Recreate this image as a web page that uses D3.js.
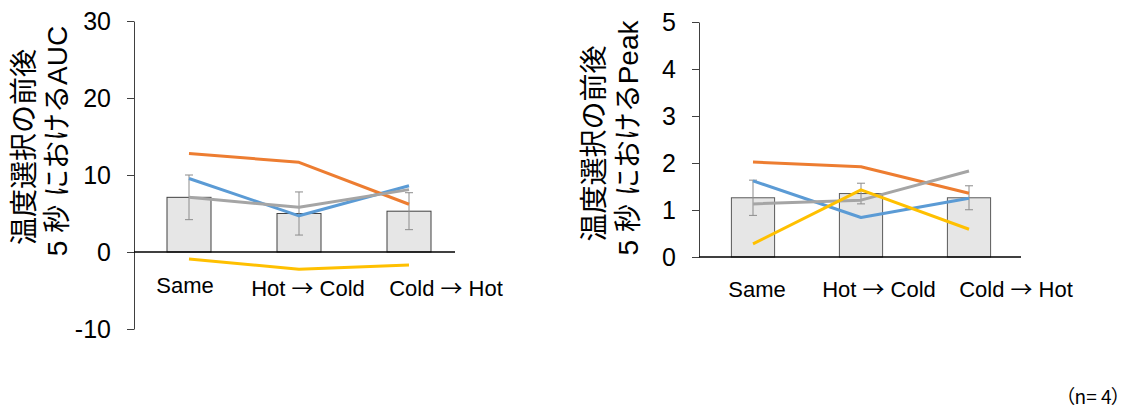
<!DOCTYPE html>
<html>
<head>
<meta charset="utf-8">
<script src="https://cdn.jsdelivr.net/npm/d3@7"></script>
<style>
  body { margin: 0; background: #fff; }
  svg { display: block; }
  text { font-family: "Liberation Sans", Arial, "Noto Sans CJK JP", sans-serif; fill: #000; }
</style>
</head>
<body>
<div id="chart"></div>
<script>
// categories
const categories = ['Same', 'Hot \u2192 Cold', 'Cold \u2192 Hot'];

// AUC panel (left)
const aucTicks = [-10, 0, 10, 20, 30];
const aucMean = [7.1, 5.0, 5.3];
const aucErr = [2.9, 2.8, 2.4];
const aucBlue = [9.55, 4.7, 8.6];
const aucOrange = [12.8, 11.65, 6.2];
const aucGray = [7.1, 5.8, 8.1];
const aucYellow = [-0.9, -2.25, -1.7];

// Peak panel (right)
const peakTicks = [0, 1, 2, 3, 4, 5];
const peakMean = [1.26, 1.35, 1.26];
const peakErr = [0.375, 0.22, 0.255];
const peakBlue = [1.62, 0.84, 1.25];
const peakOrange = [2.02, 1.92, 1.355];
const peakGray = [1.13, 1.21, 1.83];
const peakYellow = [0.28, 1.43, 0.59];

const titleLine1 = '温度選択の前後';
const aucTitle2 = '5 秒 におけるAUC';
const peakTitle2 = '5 秒 におけるPeak';
const noteText = '（n= 4）';

const lineColors = ['#5B9BD5', '#ED7D31', '#A5A5A5', '#FFC000'];

const svg = d3.select('#chart').append('svg')
    .attr('width', 1125)
    .attr('height', 412);

function drawPanel(cfg) {
    const x = d3.scaleBand()
        .domain(categories)
        .range([cfg.x0, cfg.x1])
        .paddingInner(0.6)
        .paddingOuter(0.3);

    const y = d3.scaleLinear()
        .domain(cfg.domain)
        .range([cfg.yBottom, cfg.yTop]);

    const g = svg.append('g');

    // bars
    g.selectAll('.bar')
        .data(cfg.mean)
        .join('rect')
        .attr('x', (d, i) => x(categories[i]))
        .attr('width', x.bandwidth())
        .attr('y', d => y(d))
        .attr('height', d => y(0) - y(d))
        .attr('fill', '#E6E6E6')
        .attr('stroke', cfg.barStroke)
        .attr('stroke-width', 1);

    // error bars
    const cx = i => x(categories[i]) + x.bandwidth() / 2;
    cfg.mean.forEach((m, i) => {
        const e = cfg.err[i];
        const eg = g.append('g').attr('stroke', '#8C8C8C').attr('stroke-width', 1);
        eg.append('line').attr('x1', cx(i)).attr('x2', cx(i)).attr('y1', y(m + e)).attr('y2', y(m - e));
        eg.append('line').attr('x1', cx(i) - 4).attr('x2', cx(i) + 4).attr('y1', y(m + e)).attr('y2', y(m + e));
        eg.append('line').attr('x1', cx(i) - 4).attr('x2', cx(i) + 4).attr('y1', y(m - e)).attr('y2', y(m - e));
    });

    // y axis
    const yAxis = g.append('g')
        .attr('transform', `translate(${cfg.x0},0)`)
        .call(d3.axisLeft(y)
            .tickValues(cfg.ticks)
            .tickFormat(d => String(d))
            .tickSizeInner(7)
            .tickSizeOuter(0)
            .tickPadding(16));
    yAxis.select('.domain').attr('stroke', '#404040');
    yAxis.selectAll('.tick line').attr('stroke', '#404040');
    yAxis.selectAll('.tick text')
        .style('font-size', '25px')
        .style('font-family', '"Liberation Sans", Arial, sans-serif')
        .attr('fill', '#000');

    // x axis baseline at zero
    g.append('line')
        .attr('x1', cfg.x0)
        .attr('x2', cfg.xAxisEnd)
        .attr('y1', y(0))
        .attr('y2', y(0))
        .attr('stroke', '#000')
        .attr('stroke-width', 1.5);

    // individual lines
    const line = d3.line()
        .x((d, i) => cx(i))
        .y(d => y(d));
    cfg.series.forEach((s, k) => {
        g.append('path')
            .datum(s)
            .attr('d', line)
            .attr('fill', 'none')
            .attr('stroke', lineColors[k])
            .attr('stroke-width', 3)
            .attr('stroke-linejoin', 'round');
    });

    // category labels (arrow drawn in the CJK font, which has a wider glyph)
    categories.forEach((c, i) => {
        const t = g.append('text')
            .attr('x', cx(i) + cfg.labelDx[i])
            .attr('y', cfg.labelY + cfg.labelDy[i])
            .attr('text-anchor', 'middle')
            .style('font-size', '22px');
        c.split(/(\u2192)/).forEach(part => {
            const ts = t.append('tspan').text(part);
            if (part === '\u2192') ts.style('font-family', '"Noto Sans CJK JP", sans-serif');
        });
    });

    // y title (two rotated lines)
    cfg.titles.forEach(t => {
        g.append('text')
            .attr('transform', `translate(${t.x},${t.y}) rotate(-90)`)
            .attr('text-anchor', 'middle')
            .attr('dominant-baseline', 'central')
            .style('font-size', '28px')
            .text(t.text);
    });
}

drawPanel({
    x0: 134, x1: 464, xAxisEnd: 455,
    domain: [-10, 30], yBottom: 329, yTop: 21,
    ticks: aucTicks,
    mean: aucMean, err: aucErr,
    series: [aucBlue, aucOrange, aucGray, aucYellow],
    barStroke: '#404040',
    labelY: 296, labelDx: [-4, 9, 37], labelDy: [-3, 0, 0],
    titles: [
        { x: 24, y: 147, text: titleLine1 },
        { x: 57, y: 141, text: aucTitle2 }
    ]
});

drawPanel({
    x0: 699, x1: 1023, xAxisEnd: 1021,
    domain: [0, 5], yBottom: 257, yTop: 22,
    ticks: peakTicks,
    mean: peakMean, err: peakErr,
    series: [peakBlue, peakOrange, peakGray, peakYellow],
    barStroke: '#595959',
    labelY: 297, labelDx: [4, 18, 47], labelDy: [0, 0, 0],
    titles: [
        { x: 594, y: 143.5, text: titleLine1 },
        { x: 628, y: 138, text: peakTitle2 }
    ]
});

// sample size note (proportional full-width parentheses)
svg.append('text')
    .attr('x', 1121)
    .attr('y', 404)
    .attr('text-anchor', 'end')
    .style('font-size', '19px')
    .style('font-feature-settings', '"palt" 1')
    .style('font-family', '"Noto Sans CJK JP", "Liberation Sans", sans-serif')
    .text(noteText);
</script>
</body>
</html>
